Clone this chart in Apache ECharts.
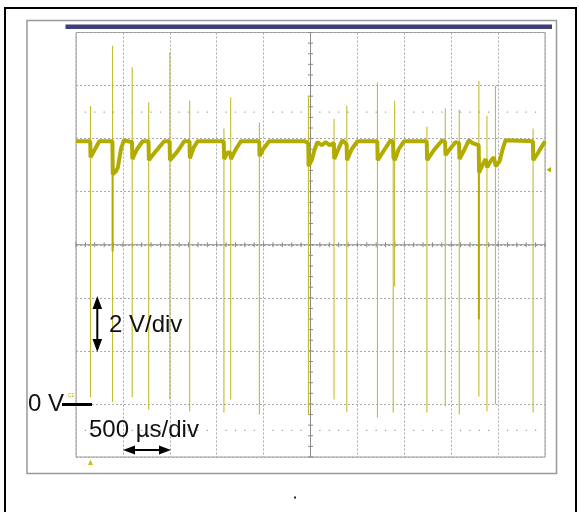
<!DOCTYPE html>
<html>
<head>
<meta charset="utf-8">
<script src="https://cdn.jsdelivr.net/npm/echarts@6/dist/echarts.min.js"></script>
<style>html,body{margin:0;padding:0;background:#fff}#c{width:579px;height:512px}</style>
</head>
<body>
<div id="c"></div>
<script>
// Time axis in microseconds (500 us/div, 10 div), voltage axis in volts (2 V/div, 8 div)
const timeTicks = [0,500,1000,1500,2000,2500,3000,3500,4000,4500,5000];
const voltTicks = [-2,0,2,4,6,8,10,12,14];

// Base trace (time us, volts)
const traceT = [0,152,155,202,248,388,392,426,447,479,511,554,597,
  601,650,710,773, 777,852,940,998, 1002,1076,1153,1210, 1214,1257,1296,1575,
  1579,1619,1647, 1651,1704,1757,1953, 1957,2002,2059,2440,2476,
  2480,2513,2545,2574,2620,2662,2705,2749, 2753,2801,2840,2885,
  2889,2939,3000,3212, 3216,3291,3355,3380, 3384,3395,3399,3440,3496,3739,
  3743,3823,3905,3935, 3939,3994,4047,4084, 4088,4143,4189,4228,4293,
  4297,4335,4367,4379, 4383,4419,4455,4470, 4474,4516,4548,4580,4871,
  4875,4920,4962,5000];
const traceV = [9.9,9.9,9.3,9.6,9.9,9.9,8.66,8.77,8.92,9.6,9.94,9.9,9.87,
  9.23,9.6,9.9,9.9, 9.19,9.53,9.9,9.9, 9.19,9.49,9.9,9.9, 9.26,9.68,9.9,9.9,
  9.23,9.49,9.45, 9.23,9.6,9.9,9.9, 9.34,9.64,9.9,9.9,9.83,
  8.96,9.19,9.6,9.87,9.75,9.87,9.75,9.83, 9.23,9.64,9.94,9.79,
  9.19,9.6,9.9,9.9, 9.19,9.6,9.94,9.87, 9.3,9.25,9.19,9.6,9.9,9.9,
  9.19,9.6,9.94,9.87, 9.38,9.64,9.87,9.83, 9.23,9.6,9.94,9.83,9.75,
  8.72,9.02,9.23,9.23, 8.92,9.15,9.3,9.26, 8.96,9.15,9.6,9.94,9.9,
  9.19,9.43,9.68,9.9];

// Switching spikes: time, peak, trough
const spikeT   = [154,390,599,775,1000,1212,1577,1649,1955,2478,2751,2887,3214,3382,3397,3741,3937,4086,4295,4381,4472,4873];
const spikeTop = [11.23,13.5,12.69,11.36,13.26,11.43,10.38,11.55,10.61,11.62,10.74,11.24,12.12,9.87,11.43,10.45,11.14,11.09,12.18,10.86,11.99,10.38];
const spikeBot = [0.25,0.06,0.25,-0.21,0.17,-0.28,-0.32,0.17,-0.4,-0.4,0.17,-0.31,-0.51,-0.32,4.43,-0.32,-0.09,-0.4,0.28,-0.28,-0.02,-0.32];
// Dense (bright) parts of two spikes
const denseT = [390,4295];
const denseTop = [9.9,8.9];
const denseBot = [5.75,3.19];

const traceColor = '#b3ac00';
const spikeColor = '#c2bc2e';

const chart = echarts.init(document.getElementById('c'), null, {renderer:'canvas'});

const traceData = traceT.map((t,i)=>[t, traceV[i]]);
const spikeData = spikeT.map((t,i)=>[t, spikeTop[i], spikeBot[i]]);
const denseData = denseT.map((t,i)=>[t, denseTop[i], denseBot[i]]);

// graticule minor ticks on the centre lines and dotted rows
const vTicks = [], hTicks = [], dots = [];
for (let k = 0; k <= 40; k++) vTicks.push([2500, -2 + k*0.4]);
for (let k = 0; k <= 50; k++) hTicks.push([k*100, 6]);
for (let k = 1; k < 50; k++) { if (k % 5 !== 0) { dots.push([k*100, 11]); dots.push([k*100, -1]); } }

function vline(color, width) {
  return function(params, api) {
    const a = api.coord([api.value(0), api.value(1)]);
    const b = api.coord([api.value(0), api.value(2)]);
    return {type:'line', shape:{x1:a[0], y1:a[1], x2:b[0], y2:b[1]}, style:{stroke:color, lineWidth:width}};
  };
}

const font = '"Liberation Sans", Arial, sans-serif';

chart.setOption({
  animation:false,
  backgroundColor:'#fff',
  grid:{left:76, top:32.5, right:34, bottom:55, show:true, borderColor:'#9a9a9a', borderWidth:1, backgroundColor:'transparent'},
  xAxis:{type:'value', min:timeTicks[0], max:timeTicks[timeTicks.length-1], interval:500,
    axisLabel:{show:false}, axisTick:{show:false}, axisLine:{show:false},
    splitLine:{show:true, lineStyle:{color:'#a8a8a8', type:[2,2], width:1}}},
  yAxis:{type:'value', min:voltTicks[0], max:voltTicks[voltTicks.length-1], interval:2,
    axisLabel:{show:false}, axisTick:{show:false}, axisLine:{show:false},
    splitLine:{show:true, lineStyle:{color:'#a8a8a8', type:[2,2], width:1}}},
  series:[
    {type:'line', data:[[2500,-2],[2500,14]], symbol:'none', silent:true,
      lineStyle:{color:'#8a8a8a', width:1}, z:1},
    {type:'line', data:[[0,6],[5000,6]], symbol:'none', silent:true,
      lineStyle:{color:'#8a8a8a', width:1}, z:1},
    {type:'custom', data:vTicks, silent:true, z:1, renderItem:function(p, api){
      const c = api.coord([api.value(0), api.value(1)]);
      return {type:'line', shape:{x1:c[0]-2.5, y1:c[1], x2:c[0]+2.5, y2:c[1]}, style:{stroke:'#8a8a8a', lineWidth:1}};
    }},
    {type:'custom', data:hTicks, silent:true, z:1, renderItem:function(p, api){
      const c = api.coord([api.value(0), api.value(1)]);
      return {type:'line', shape:{x1:c[0], y1:c[1]-2.5, x2:c[0], y2:c[1]+2.5}, style:{stroke:'#8a8a8a', lineWidth:1}};
    }},
    {type:'custom', data:dots, silent:true, z:1, renderItem:function(p, api){
      const c = api.coord([api.value(0), api.value(1)]);
      return {type:'rect', shape:{x:c[0]-0.6, y:c[1]-0.6, width:1.2, height:1.2}, style:{fill:'#9a9a9a'}};
    }},
    {type:'custom', data:spikeData, silent:true, z:3, encode:{x:0, y:[1,2]}, renderItem:vline(spikeColor, 1.1)},
    {type:'custom', data:denseData, silent:true, z:4, encode:{x:0, y:[1,2]}, renderItem:vline(traceColor, 2)},
    {type:'line', data:traceData, symbol:'none', silent:true, z:5,
      lineStyle:{color:traceColor, width:4, join:'bevel'}}
  ],
  graphic:[
    {type:'rect', z:100, shape:{x:5, y:8, width:571, height:520}, style:{fill:null, stroke:'#000', lineWidth:2}, silent:true},
    {type:'rect', z:100, shape:{x:27, y:20.5, width:529.5, height:453}, style:{fill:null, stroke:'#999', lineWidth:1.5}, silent:true},
    {type:'rect', z:100, shape:{x:65.5, y:24.5, width:486.5, height:4.5}, style:{fill:'#3f3d7a'}, silent:true},
    // 0 V label and marker
    {type:'text', z:100, left:28, top:392, style:{text:'0 V', font:'24px '+font, fill:'#111'}},
    {type:'line', z:100, shape:{x1:62, y1:404.5, x2:92, y2:404.5}, style:{stroke:'#000', lineWidth:3}},
    {type:'text', z:100, left:68, top:393, style:{text:'C1', font:'5px '+font, fill:'#b3ac00'}},
    // 2 V/div
    {type:'text', z:100, left:109, top:313, style:{text:'2 V/div', font:'24px '+font, fill:'#111'}},
    {type:'line', z:100, shape:{x1:97.3, y1:300, x2:97.3, y2:349}, style:{stroke:'#000', lineWidth:2}},
    {type:'polygon', z:100, shape:{points:[[97.3,296],[92.5,309],[102.1,309]]}, style:{fill:'#000'}},
    {type:'polygon', z:100, shape:{points:[[97.3,352],[92.5,339],[102.1,339]]}, style:{fill:'#000'}},
    // 500 us/div
    {type:'text', z:100, left:89, top:418, style:{text:'500 \u00b5s/div', font:'24px '+font, fill:'#111'}},
    {type:'line', z:100, shape:{x1:126, y1:450, x2:168, y2:450}, style:{stroke:'#000', lineWidth:2}},
    {type:'polygon', z:100, shape:{points:[[123,450],[135,445.5],[135,454.5]]}, style:{fill:'#000'}},
    {type:'polygon', z:100, shape:{points:[[171,450],[159,445.5],[159,454.5]]}, style:{fill:'#000'}},
    // trigger markers
    {type:'polygon', z:100, shape:{points:[[90.5,459.5],[88,465],[93,465]]}, style:{fill:'#c8c020'}},
    {type:'polygon', z:100, shape:{points:[[546.5,169.7],[551,167],[551,172.4]]}, style:{fill:'#b3ac00'}},
    // small dot
    {type:'rect', z:100, shape:{x:294, y:496.5, width:2, height:2}, style:{fill:'#222'}}
  ]
});
</script>
</body>
</html>
